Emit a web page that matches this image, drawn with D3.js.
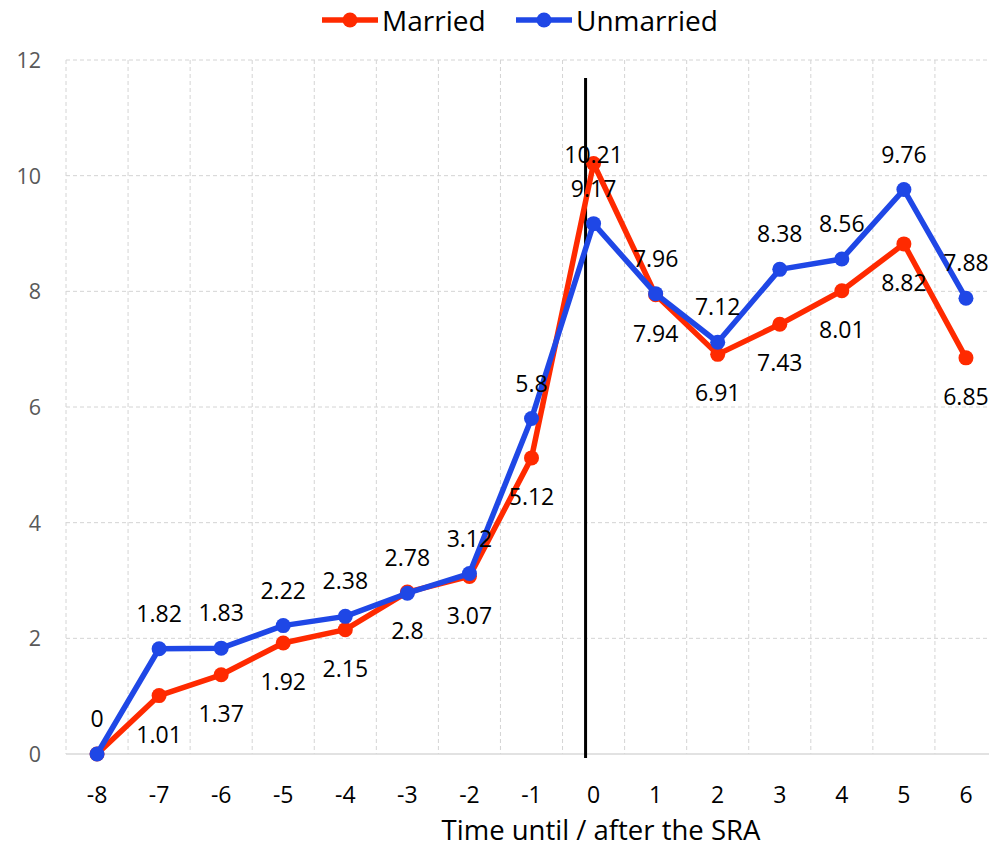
<!DOCTYPE html>
<html>
<head>
<meta charset="utf-8">
<script src="https://cdn.jsdelivr.net/npm/d3@7/dist/d3.min.js"></script>
<style>
  html, body { margin: 0; padding: 0; background: #fff; }
  svg { display: block; }
  text { font-family: "Open Sans", "Noto Sans", sans-serif; }
</style>
</head>
<body>
<svg id="chart" width="989" height="848"></svg>
<script>
// ---- data ----
const categories = ["-8","-7","-6","-5","-4","-3","-2","-1","0","1","2","3","4","5","6"];
const married   = [0, 1.01, 1.37, 1.92, 2.15, 2.8, 3.07, 5.12, 10.21, 7.94, 6.91, 7.43, 8.01, 8.82, 6.85];
const unmarried = [0, 1.82, 1.83, 2.22, 2.38, 2.78, 3.12, 5.8, 9.17, 7.96, 7.12, 8.38, 8.56, 9.76, 7.88];
const yTicks = [0, 2, 4, 6, 8, 10, 12];
const seriesNames = ["Married", "Unmarried"];

// ---- style / layout config ----
const FONT = "'Open Sans', 'Noto Sans', sans-serif";
const colors = { Married: "#ff2a00", Unmarried: "#1f47e6" };
// label placement per point: "below", "top" (close above), "above", "none"
const marriedLabelPos = ["none","below","below","below","below","below","below","below","top","below","below","below","below","below","below"];
const unmarriedLabelPos = categories.map(() => "above");

const svg = d3.select("#chart");
const margin = { left: 66, right: -8, top: 60, bottom: 94 };
const W = 989, H = 848;

const x = d3.scaleBand().domain(categories).range([margin.left, W - margin.right]).padding(0);
const y = d3.scaleLinear().domain([0, 12]).range([H - margin.bottom, margin.top]);
const cx = c => x(c) + x.bandwidth() / 2;

// gridlines
const grid = svg.append("g");
grid.selectAll("line.h").data(yTicks.filter(t => t > 0)).join("line")
  .attr("x1", margin.left).attr("x2", W)
  .attr("y1", d => y(d)).attr("y2", d => y(d))
  .attr("stroke", "#d4d4d4").attr("stroke-width", 1).attr("stroke-dasharray", "4,3");
grid.selectAll("line.v").data(categories).join("line")
  .attr("x1", d => x(d)).attr("x2", d => x(d))
  .attr("y1", y(12)).attr("y2", y(0))
  .attr("stroke", "#d4d4d4").attr("stroke-width", 1).attr("stroke-dasharray", "4,3");
// baseline
svg.append("line").attr("x1", margin.left).attr("x2", W)
  .attr("y1", y(0)).attr("y2", y(0))
  .attr("stroke", "#d9d9d9").attr("stroke-width", 1.5);

// y axis
const yAxis = d3.axisLeft(y).tickValues(yTicks).tickSize(0).tickPadding(0);
const gy = svg.append("g").attr("transform", `translate(41,0)`).call(yAxis);
gy.select(".domain").remove();
gy.selectAll("text").attr("font-size", 21.5).attr("fill", "#595959")
  .attr("font-family", FONT).attr("dy", "0.35em");

// x axis
const xAxis = d3.axisBottom(x).tickSize(0).tickPadding(0);
const gx = svg.append("g").attr("transform", `translate(0,${y(0) + 41})`).call(xAxis);
gx.select(".domain").remove();
gx.selectAll("text").attr("font-size", 23).attr("fill", "#000")
  .attr("font-family", FONT).attr("dy", "0.35em");

// x axis title
svg.append("text").attr("x", 601).attr("y", 840).attr("text-anchor", "middle")
  .attr("font-size", 27.5).attr("fill", "#000")
  .text("Time until / after the SRA");

// vertical reference line (SRA)
svg.append("line")
  .attr("x1", cx("0") - 8).attr("x2", cx("0") - 8)
  .attr("y1", y(12) + 18).attr("y2", y(0) + 4)
  .attr("stroke", "#000").attr("stroke-width", 3);

// series
const series = [
  { name: "Married", values: married, pos: marriedLabelPos },
  { name: "Unmarried", values: unmarried, pos: unmarriedLabelPos }
];
const line = d3.line().x((d, i) => cx(categories[i])).y(d => y(d));

series.forEach(s => {
  const g = svg.append("g");
  g.append("path").attr("d", line(s.values)).attr("fill", "none")
    .attr("stroke", colors[s.name]).attr("stroke-width", 5.5).attr("stroke-linejoin", "round");
  g.selectAll("circle").data(s.values).join("circle")
    .attr("cx", (d, i) => cx(categories[i])).attr("cy", d => y(d)).attr("r", 7.5)
    .attr("fill", colors[s.name]);
});

// data labels
const labelOffset = { above: -35, below: 39, top: -9 };
series.forEach(s => {
  svg.append("g").selectAll("text").data(s.values.map((v, i) => ({ v, i, p: s.pos[i] })).filter(d => d.p !== "none"))
    .join("text")
    .attr("x", d => cx(categories[d.i]))
    .attr("y", d => y(d.v) + labelOffset[d.p])
    .attr("dy", "0.35em").attr("text-anchor", "middle")
    .attr("font-size", 23).attr("fill", "#000")
    .text(d => String(d.v));
});

// legend
const legend = svg.append("g");
const legendItems = [
  { name: "Married", x0: 322 },
  { name: "Unmarried", x0: 516 }
];
legendItems.forEach(it => {
  legend.append("line").attr("x1", it.x0).attr("x2", it.x0 + 56).attr("y1", 20).attr("y2", 20)
    .attr("stroke", colors[it.name]).attr("stroke-width", 5.5);
  legend.append("circle").attr("cx", it.x0 + 28).attr("cy", 20).attr("r", 7.5).attr("fill", colors[it.name]);
  legend.append("text").attr("x", it.x0 + 60).attr("y", 21).attr("dy", "0.35em")
    .attr("font-size", 28).attr("fill", "#000").text(it.name);
});
</script>
</body>
</html>
